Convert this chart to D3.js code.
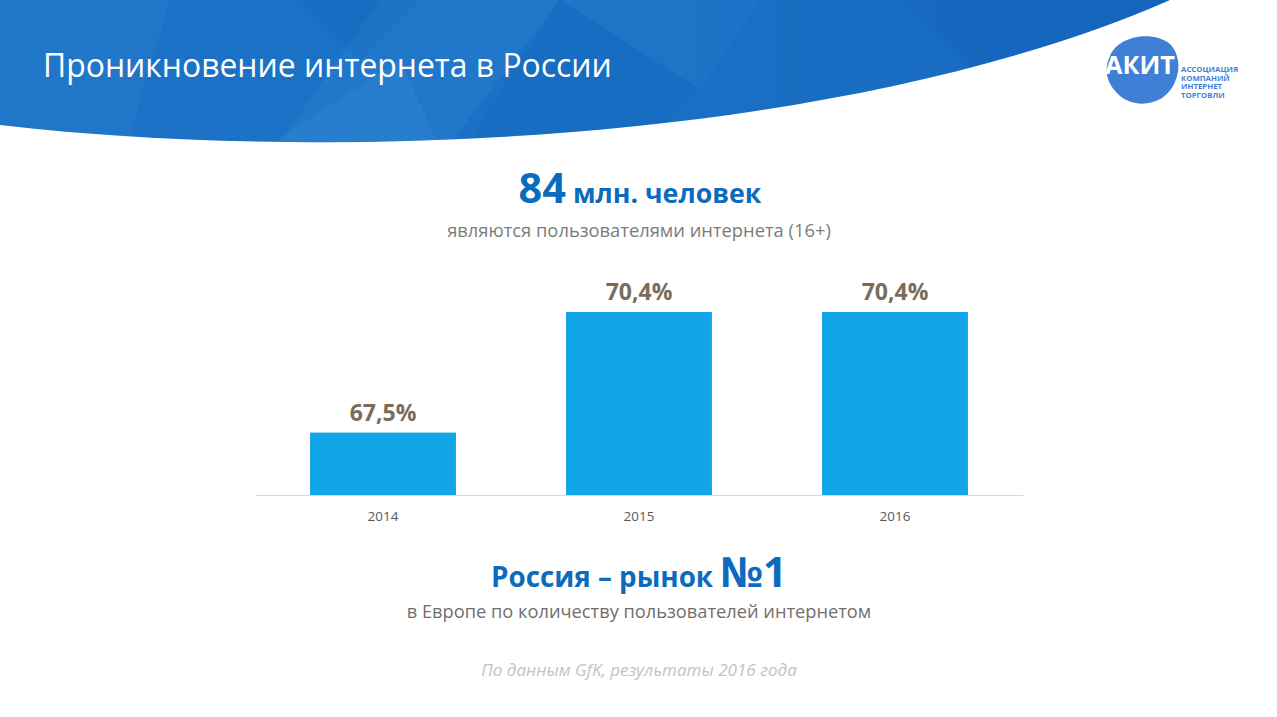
<!DOCTYPE html>
<html>
<head>
<meta charset="utf-8">
<script src="https://cdn.jsdelivr.net/npm/d3@7"></script>
<style>
  body { margin: 0; background: #fff; }
  svg { display: block; font-family: "Open Sans", "Noto Sans", sans-serif; }
</style>
</head>
<body>
<svg id="chart" width="1277" height="717"></svg>
<script>
// data
var years = ["2014", "2015", "2016"];
var values = [67.5, 70.4, 70.4];

var W = 1277, H = 717;
var svg = d3.select("#chart");

var ru = d3.formatLocale({ decimal: ",", thousands: " ", grouping: [3], currency: ["", " ₽"] });
var fmt = function(v) { return ru.format(".1f")(v) + "%"; };

// scale text so it has the width seen in the picture
function fit(sel, w) {
  var len = sel.node().getComputedTextLength();
  var fs = parseFloat(sel.attr("font-size"));
  sel.attr("font-size", fs * w / len);
}

// ---- header banner
var defs = svg.append("defs");
var g1 = defs.append("linearGradient").attr("id", "ban").attr("x1", 0).attr("x2", 1).attr("y1", 0).attr("y2", 0);
g1.append("stop").attr("offset", "0%").attr("stop-color", "#1c72c6");
g1.append("stop").attr("offset", "50%").attr("stop-color", "#1a70c4");
g1.append("stop").attr("offset", "100%").attr("stop-color", "#1668bf");
defs.append("clipPath").attr("id", "banclip").append("path")
  .attr("d", "M0,0 L1170,0 C850,140 350,165 0,125 Z");

var ban = svg.append("g").attr("clip-path", "url(#banclip)");
ban.append("rect").attr("width", W).attr("height", 170).attr("fill", "url(#ban)");
// faint facets
var facets = [
  ["M0,0 L170,0 L120,170 L0,170 Z", "#3a8fdc", 0.18],
  ["M380,0 L560,0 L430,170 L260,170 Z", "#3a8fdc", 0.2],
  ["M230,170 L400,60 L450,170 Z", "#4aa0e6", 0.18],
  ["M560,0 L760,0 L700,90 Z", "#3a8fdc", 0.15],
  ["M560,0 L700,90 L620,170 L450,170 Z", "#0a58ae", 0.12],
  ["M900,0 L1170,0 L1000,100 Z", "#0a58ae", 0.2],
  ["M300,0 L420,0 L360,60 Z", "#0a58ae", 0.15]
];
ban.selectAll("path.facet").data(facets).enter().append("path")
  .attr("class", "facet")
  .attr("d", function(d) { return d[0]; })
  .attr("fill", function(d) { return d[1]; })
  .attr("opacity", function(d) { return d[2]; });

var title = svg.append("text")
  .attr("x", 43).attr("y", 77)
  .attr("font-size", 28).attr("fill", "#fff")
  .text("Проникновение интернета в России");
fit(title, 569);

// ---- logo
var logo = svg.append("g");
logo.append("path")
  .attr("d", "M1110,56 C1118,36 1152,30 1170,44 C1184,58 1180,86 1162,98 C1146,108 1126,104 1116,92 C1106,82 1104,68 1110,56 Z")
  .attr("fill", "#3f7fd6");
var ak = logo.append("text").attr("x", 1105).attr("y", 74)
  .attr("font-size", 20).attr("font-weight", "bold").attr("fill", "#fff")
  .text("АКИТ");
fit(ak, 70);
var ltxt = ["АССОЦИАЦИЯ", "КОМПАНИЙ", "ИНТЕРНЕТ", "ТОРГОВЛИ"];
logo.selectAll("text.lt").data(ltxt).enter().append("text")
  .attr("class", "lt")
  .attr("x", 1181).attr("y", function(d, i) { return 72 + i * 8.5; })
  .attr("font-size", 7.8).attr("font-weight", "bold").attr("fill", "#3f7fd6")
  .text(function(d) { return d; });

// ---- headline
var h1 = svg.append("text").attr("x", 640).attr("y", 203)
  .attr("text-anchor", "middle").attr("font-weight", "bold")
  .attr("font-size", 26).attr("fill", "#0b6cbd");
h1.append("tspan").attr("font-size", "1.55em").text("84");
h1.append("tspan").text(" млн. человек");
fit(h1, 243);

var sub1 = svg.append("text").attr("x", 639).attr("y", 237)
  .attr("text-anchor", "middle").attr("font-size", 16).attr("fill", "#7b7b7b")
  .text("являются пользователями интернета (16+)");
fit(sub1, 384);

// ---- bars
var x = d3.scaleBand().domain(years).range([255, 1023]).paddingInner(0.43).paddingOuter(0.215);
var y = d3.scaleLinear().domain([66, 71]).range([495, 287]);

var bars = svg.append("g");
bars.selectAll("rect").data(values).enter().append("rect")
  .attr("x", function(d, i) { return x(years[i]); })
  .attr("y", function(d) { return y(d); })
  .attr("width", x.bandwidth())
  .attr("height", function(d) { return y(66) - y(d); })
  .attr("fill", "#12a6e9");

bars.selectAll("text.val").data(values).enter().append("text")
  .attr("class", "val")
  .attr("x", function(d, i) { return x(years[i]) + x.bandwidth() / 2; })
  .attr("y", function(d) { return y(d) - 12; })
  .attr("text-anchor", "middle").attr("font-weight", "bold")
  .attr("font-size", 23).attr("fill", "#786c5e")
  .text(fmt);

var xAxis = svg.append("g").attr("transform", "translate(0," + y(66) + ")")
  .call(d3.axisBottom(x).tickSize(0).tickPadding(16));
xAxis.select(".domain").attr("stroke", "#d9d9d9").attr("stroke-width", 1.2);
xAxis.selectAll("text").attr("font-size", 13.5).attr("fill", "#595959")
  .attr("font-family", "\"Open Sans\", sans-serif");

// ---- bottom text
var h2 = svg.append("text").attr("x", 639).attr("y", 587)
  .attr("text-anchor", "middle").attr("font-weight", "bold")
  .attr("font-size", 24).attr("fill", "#0b6cbd");
h2.append("tspan").text("Россия – рынок ");
h2.append("tspan").attr("font-size", "1.5em").text("№1");
fit(h2, 296);

var sub2 = svg.append("text").attr("x", 639).attr("y", 618)
  .attr("text-anchor", "middle").attr("font-size", 16).attr("fill", "#6f6f6f")
  .text("в Европе по количеству пользователей интернетом");
fit(sub2, 465);

var note = svg.append("text").attr("x", 639).attr("y", 676)
  .attr("text-anchor", "middle").attr("font-size", 15).attr("font-style", "italic")
  .attr("fill", "#c3c3c3")
  .text("По данным GfK, результаты 2016 года");
fit(note, 316);
</script>
</body>
</html>
